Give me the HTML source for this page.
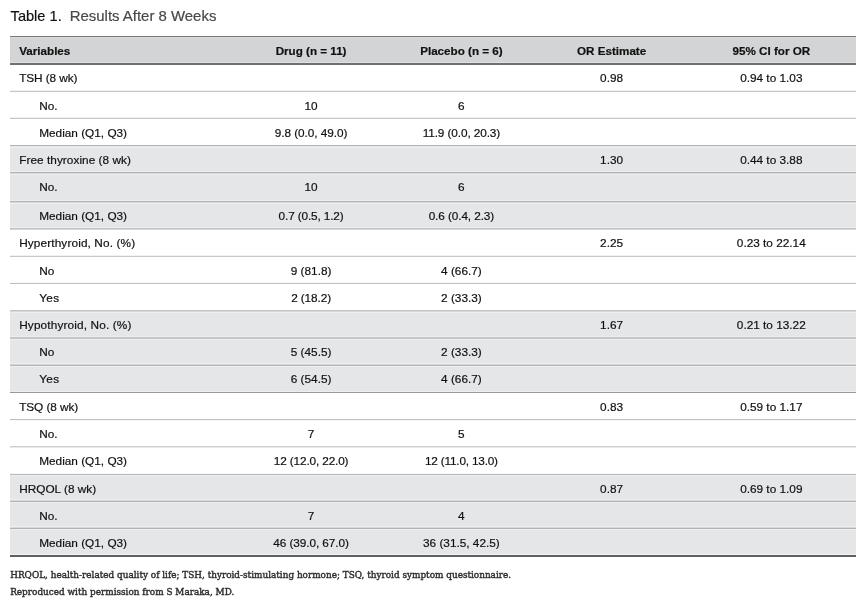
<!DOCTYPE html><html><head><meta charset="utf-8"><title>Table 1. Results After 8 Weeks</title><style>
html,body{margin:0;padding:0;background:#fff;}
body{width:866px;height:607px;position:relative;overflow:hidden;font-family:"Liberation Sans",Arial,Helvetica,sans-serif;color:#111;}
.t{position:absolute;white-space:nowrap;font-size:11.8px;line-height:0;-webkit-text-stroke:0.2px currentColor;}
.c{position:absolute;white-space:nowrap;font-size:11.8px;line-height:0;width:200px;text-align:center;-webkit-text-stroke:0.2px currentColor;}
.h{font-weight:bold;font-size:11.65px;}
.row{position:absolute;left:10px;width:846px;}
.g{background:#e5e6e8;}
.ln{position:absolute;left:10px;width:846px;height:1px;background:#bdbec0;}
.lg{background:#b4b5b7;}
.fn{position:absolute;white-space:nowrap;line-height:0;font-family:"DejaVu Serif",serif;font-size:8.9px;color:#2e2e2e;-webkit-text-stroke:0.4px currentColor;}
</style></head><body>
<div class="t" style="left:10.6px;top:15.74px;font-size:14.6px;color:#111">Table 1.</div>
<div class="t" style="left:69.7px;top:15.62px;font-size:14.95px;color:#484848">Results After 8 Weeks</div>
<div class="row" style="top:36px;height:1px;background:#77787a"></div>
<div class="row" style="top:37px;height:26px;background:#d3d4d6"></div>
<div class="row" style="top:63px;height:2px;background:#6f7072"></div>
<div class="row" style="top:37px;height:1px;background:#dadbdd"></div>
<div class="t h" style="left:19.2px;top:50.76px">Variables</div>
<div class="c h" style="left:211.1px;top:50.76px">Drug (n = 11)</div>
<div class="c h" style="left:361.4px;top:50.76px">Placebo (n = 6)</div>
<div class="c h" style="left:511.6px;top:50.76px">OR Estimate</div>
<div class="c h" style="left:671.3px;top:50.76px">95% CI for OR</div>
<div class="row" style="top:145px;height:27px;background:#e5e6e8"></div>
<div class="row" style="top:172px;height:29px;background:#e5e6e8"></div>
<div class="row" style="top:201px;height:27px;background:#e5e6e8"></div>
<div class="row" style="top:310px;height:28px;background:#e5e6e8"></div>
<div class="row" style="top:338px;height:27px;background:#e5e6e8"></div>
<div class="row" style="top:365px;height:27px;background:#e5e6e8"></div>
<div class="row" style="top:474px;height:27px;background:#e5e6e8"></div>
<div class="row" style="top:501px;height:27px;background:#e5e6e8"></div>
<div class="row" style="top:528px;height:27px;background:#e5e6e8"></div>
<div class="row" style="top:90px;height:1px;background:#f1f1f1"></div>
<div class="row" style="top:91px;height:1px;background:#c6c7c9"></div>
<div class="row" style="top:117px;height:1px;background:#f1f1f1"></div>
<div class="row" style="top:118px;height:1px;background:#c6c7c9"></div>
<div class="row" style="top:145px;height:1px;background:#b3b4b6"></div>
<div class="row" style="top:147px;height:1px;background:#eceef0"></div>
<div class="row" style="top:172px;height:1px;background:#b2b3b5"></div>
<div class="row" style="top:173px;height:1px;background:#d8d9db"></div>
<div class="row" style="top:171px;height:1px;background:#eceef0"></div>
<div class="row" style="top:174px;height:1px;background:#eceef0"></div>
<div class="row" style="top:201px;height:1px;background:#b2b3b5"></div>
<div class="row" style="top:202px;height:1px;background:#d8d9db"></div>
<div class="row" style="top:200px;height:1px;background:#eceef0"></div>
<div class="row" style="top:203px;height:1px;background:#eceef0"></div>
<div class="row" style="top:228px;height:1px;background:#c1c2c3"></div>
<div class="row" style="top:229px;height:1px;background:#d6d6d7"></div>
<div class="row" style="top:227px;height:1px;background:#eceef0"></div>
<div class="row" style="top:255px;height:1px;background:#f1f1f1"></div>
<div class="row" style="top:256px;height:1px;background:#c6c7c9"></div>
<div class="row" style="top:282px;height:1px;background:#f8f8f8"></div>
<div class="row" style="top:283px;height:1px;background:#bfc0c2"></div>
<div class="row" style="top:310px;height:1px;background:#c2c3c5"></div>
<div class="row" style="top:311px;height:1px;background:#d6d7d9"></div>
<div class="row" style="top:312px;height:1px;background:#eceef0"></div>
<div class="row" style="top:337px;height:1px;background:#c5c6c8"></div>
<div class="row" style="top:338px;height:1px;background:#c5c6c8"></div>
<div class="row" style="top:336px;height:1px;background:#eceef0"></div>
<div class="row" style="top:339px;height:1px;background:#eceef0"></div>
<div class="row" style="top:364px;height:1px;background:#d2d3d5"></div>
<div class="row" style="top:365px;height:1px;background:#b8b9bb"></div>
<div class="row" style="top:363px;height:1px;background:#eceef0"></div>
<div class="row" style="top:366px;height:1px;background:#eceef0"></div>
<div class="row" style="top:392px;height:1px;background:#98999b"></div>
<div class="row" style="top:391px;height:1px;background:#eceef0"></div>
<div class="row" style="top:419px;height:1px;background:#bfc0c2"></div>
<div class="row" style="top:420px;height:1px;background:#f8f8f8"></div>
<div class="row" style="top:446px;height:1px;background:#cdcecf"></div>
<div class="row" style="top:447px;height:1px;background:#eaeaeb"></div>
<div class="row" style="top:473px;height:1px;background:#f7f7f8"></div>
<div class="row" style="top:474px;height:1px;background:#b8b9bb"></div>
<div class="row" style="top:475px;height:1px;background:#eceef0"></div>
<div class="row" style="top:500px;height:1px;background:#d8d9db"></div>
<div class="row" style="top:501px;height:1px;background:#b2b3b5"></div>
<div class="row" style="top:499px;height:1px;background:#eceef0"></div>
<div class="row" style="top:502px;height:1px;background:#eceef0"></div>
<div class="row" style="top:527px;height:1px;background:#d8d9db"></div>
<div class="row" style="top:528px;height:1px;background:#b2b3b5"></div>
<div class="row" style="top:526px;height:1px;background:#eceef0"></div>
<div class="row" style="top:529px;height:1px;background:#eceef0"></div>
<div class="t" style="left:19.2px;top:78.21px;letter-spacing:-0.078px;">TSH (8 wk)</div>
<div class="c" style="left:511.6px;top:78.21px;">0.98</div>
<div class="c" style="left:671.3px;top:78.21px;">0.94 to 1.03</div>
<div class="t" style="left:39.2px;top:105.51px;">No.</div>
<div class="c" style="left:211.1px;top:105.51px;">10</div>
<div class="c" style="left:361.4px;top:105.51px;">6</div>
<div class="t" style="left:39.2px;top:132.51px;">Median (Q1, Q3)</div>
<div class="c" style="left:211.1px;top:132.51px;letter-spacing:-0.057px;">9.8 (0.0, 49.0)</div>
<div class="c" style="left:361.4px;top:132.51px;letter-spacing:-0.107px;">11.9 (0.0, 20.3)</div>
<div class="t" style="left:19.2px;top:159.71px;letter-spacing:0.050px;">Free thyroxine (8 wk)</div>
<div class="c" style="left:511.6px;top:159.71px;">1.30</div>
<div class="c" style="left:671.3px;top:159.71px;">0.44 to 3.88</div>
<div class="t" style="left:39.2px;top:186.91px;">No.</div>
<div class="c" style="left:211.1px;top:186.91px;">10</div>
<div class="c" style="left:361.4px;top:186.91px;">6</div>
<div class="t" style="left:39.2px;top:215.91px;">Median (Q1, Q3)</div>
<div class="c" style="left:211.1px;top:215.91px;letter-spacing:-0.138px;">0.7 (0.5, 1.2)</div>
<div class="c" style="left:361.4px;top:215.91px;letter-spacing:-0.100px;">0.6 (0.4, 2.3)</div>
<div class="t" style="left:19.2px;top:243.11px;letter-spacing:0.125px;">Hyperthyroid, No. (%)</div>
<div class="c" style="left:511.6px;top:243.11px;">2.25</div>
<div class="c" style="left:671.3px;top:243.11px;">0.23 to 22.14</div>
<div class="t" style="left:39.2px;top:270.51px;">No</div>
<div class="c" style="left:211.1px;top:270.51px;">9 (81.8)</div>
<div class="c" style="left:361.4px;top:270.51px;">4 (66.7)</div>
<div class="t" style="left:39.2px;top:297.61px;letter-spacing:0.400px;">Yes</div>
<div class="c" style="left:211.1px;top:297.61px;letter-spacing:-0.100px;">2 (18.2)</div>
<div class="c" style="left:361.4px;top:297.61px;">2 (33.3)</div>
<div class="t" style="left:19.2px;top:325.01px;letter-spacing:0.142px;">Hypothyroid, No. (%)</div>
<div class="c" style="left:511.6px;top:325.01px;">1.67</div>
<div class="c" style="left:671.3px;top:325.01px;">0.21 to 13.22</div>
<div class="t" style="left:39.2px;top:352.21px;">No</div>
<div class="c" style="left:211.1px;top:352.21px;">5 (45.5)</div>
<div class="c" style="left:361.4px;top:352.21px;">2 (33.3)</div>
<div class="t" style="left:39.2px;top:379.41px;letter-spacing:0.400px;">Yes</div>
<div class="c" style="left:211.1px;top:379.41px;">6 (54.5)</div>
<div class="c" style="left:361.4px;top:379.41px;">4 (66.7)</div>
<div class="t" style="left:19.2px;top:406.71px;letter-spacing:-0.078px;">TSQ (8 wk)</div>
<div class="c" style="left:511.6px;top:406.71px;">0.83</div>
<div class="c" style="left:671.3px;top:406.71px;">0.59 to 1.17</div>
<div class="t" style="left:39.2px;top:433.81px;">No.</div>
<div class="c" style="left:211.1px;top:433.81px;">7</div>
<div class="c" style="left:361.4px;top:433.81px;">5</div>
<div class="t" style="left:39.2px;top:461.01px;">Median (Q1, Q3)</div>
<div class="c" style="left:211.1px;top:461.01px;letter-spacing:-0.139px;">12 (12.0, 22.0)</div>
<div class="c" style="left:361.4px;top:461.01px;letter-spacing:-0.200px;">12 (11.0, 13.0)</div>
<div class="t" style="left:19.2px;top:488.61px;">HRQOL (8 wk)</div>
<div class="c" style="left:511.6px;top:488.61px;">0.87</div>
<div class="c" style="left:671.3px;top:488.61px;">0.69 to 1.09</div>
<div class="t" style="left:39.2px;top:515.51px;">No.</div>
<div class="c" style="left:211.1px;top:515.51px;">7</div>
<div class="c" style="left:361.4px;top:515.51px;">4</div>
<div class="t" style="left:39.2px;top:542.51px;">Median (Q1, Q3)</div>
<div class="c" style="left:211.1px;top:542.51px;letter-spacing:-0.086px;">46 (39.0, 67.0)</div>
<div class="c" style="left:361.4px;top:542.51px;">36 (31.5, 42.5)</div>
<div class="row" style="top:554px;height:1px;background:#f3f4f6"></div>
<div class="row" style="top:62px;height:1px;background:#e0e1e3"></div>
<div class="row" style="top:555px;height:2px;background:#5f6062"></div>
<div class="fn" style="left:10.2px;top:575.32px">HRQOL, health-related quality of life; TSH, thyroid-stimulating hormone; TSQ, thyroid symptom questionnaire.</div>
<div class="fn" style="left:10.2px;top:592.42px">Reproduced with permission from S Maraka, MD.</div>
</body></html>
